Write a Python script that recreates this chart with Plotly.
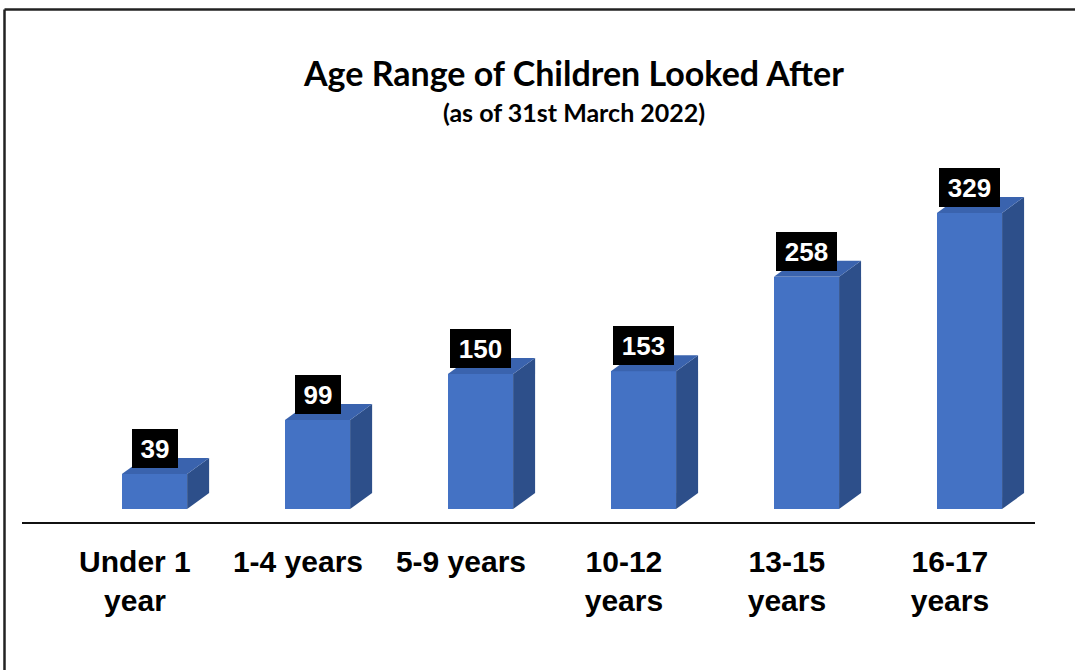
import plotly.graph_objects as go

# ---- data ----
categories = ["Under 1<br>year", "1-4 years", "5-9 years", "10-12<br>years", "13-15<br>years", "16-17<br>years"]
values = [39, 99, 150, 153, 258, 329]
title_text = "Age Range of Children Looked After"
subtitle_text = "(as of 31st March 2022)"

# ---- style ----
FRONT = "#4472C4"
SIDE = "#2D4F8A"
TOP = "#3A63AE"
BAR_W = 0.40          # bar width in category units
DX = 0.135            # 3D depth (x, category units)
DY = 17.8             # 3D depth (y, value units)

W, H = 1075, 670
L, R, T, B = 22, 40, 150, 148
plot_h = H - T - B
y_bottom = -14.44
y_top = y_bottom + plot_h / 0.9

xs = list(range(len(values)))

fig = go.Figure()

# side and top faces of the 3D bars
for x, v in zip(xs, values):
    xr = x + BAR_W / 2
    xl = x - BAR_W / 2
    fig.add_trace(go.Scatter(
        x=[xr, xr + DX, xr + DX, xr, xr], y=[0, DY, v + DY, v, 0],
        fill="toself", fillcolor=SIDE, line=dict(width=0), mode="lines",
        hoverinfo="skip", showlegend=False))
    fig.add_trace(go.Scatter(
        x=[xl, xl + DX, xr + DX, xr, xl], y=[v, v + DY, v + DY, v, v],
        fill="toself", fillcolor=TOP, line=dict(width=0), mode="lines",
        hoverinfo="skip", showlegend=False))

# front faces
fig.add_trace(go.Bar(x=xs, y=values, width=BAR_W, marker=dict(color=FRONT, line=dict(width=0)),
                     showlegend=False, hoverinfo="skip"))

# value labels
for x, v in zip(xs, values):
    txt = str(v)
    fig.add_annotation(x=x, y=v, xref="x", yref="y", yanchor="bottom", yshift=6,
                       text=f"<b>{txt}</b>", showarrow=False,
                       font=dict(family="Liberation Sans, Arial", size=26, color="white"),
                       bgcolor="black", borderpad=4, borderwidth=0,
                       width=8 + 15 * len(txt), height=31)

# title / subtitle
def py(pix):
    return (H - B - pix) / plot_h

def px(pix):
    return (pix - L) / (W - L - R)

fig.add_annotation(x=px(573.5), y=py(73), xref="paper", yref="paper", showarrow=False,
                   text=f"<b>{title_text}</b>", xanchor="center", yanchor="middle",
                   font=dict(family="Lato, Open Sans", size=34, color="black"))
fig.add_annotation(x=px(574), y=py(112), xref="paper", yref="paper", showarrow=False,
                   text=f"<b>{subtitle_text}</b>", xanchor="center", yanchor="middle",
                   font=dict(family="Lato, Open Sans", size=25, color="black"))

# outer frame (top and left)
fig.add_shape(type="line", xref="paper", yref="paper", x0=px(4.5), x1=px(W + 5), y0=py(9.5), y1=py(9.5),
              line=dict(color="#222222", width=2.5))
fig.add_shape(type="line", xref="paper", yref="paper", x0=px(4.5), x1=px(4.5), y0=py(H + 5), y1=py(9.5),
              line=dict(color="#222222", width=2.5))

fig.update_layout(
    width=W, height=H,
    margin=dict(l=L, r=R, t=T, b=B),
    paper_bgcolor="white", plot_bgcolor="white",
    bargap=0,
    xaxis=dict(range=[-0.813, 5.402], tickvals=[x - 0.12 for x in xs], ticktext=categories,
               showgrid=False, zeroline=False, showline=True, linecolor="#111111", linewidth=2,
               ticks="", ticklabelstandoff=12,
               tickfont=dict(family="Liberation Sans, Arial", size=30, color="black", weight="bold")),
    yaxis=dict(range=[y_bottom, y_top], visible=False, showgrid=False, zeroline=False),
)

fig.write_html("out.html", config={"displayModeBar": False},
               post_script="document.body.style.margin='0';document.body.style.overflow='hidden';")
